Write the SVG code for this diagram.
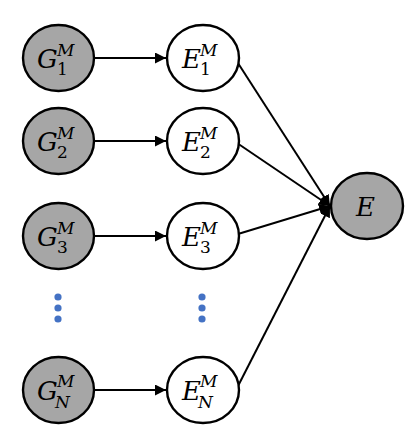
<svg xmlns="http://www.w3.org/2000/svg" width="418" height="446" viewBox="0 0 418 446">
<defs>
<marker id="ah" viewBox="0 0 10 10" refX="10" refY="5" markerWidth="5.5" markerHeight="5.5" orient="auto" markerUnits="strokeWidth">
<path d="M0,0 L10,5 L0,10 z" fill="#000"/>
</marker>
<style>
.g{fill:#a6a6a6;stroke:#000;stroke-width:2.4}
.e{fill:#fff;stroke:#000;stroke-width:2.4}
.c{stroke:#000;stroke-width:2;fill:none;marker-end:url(#ah)}
.b{font-family:"DejaVu Serif","Liberation Serif",serif;font-style:italic;font-size:26px;fill:#000}
.s{font-family:"DejaVu Serif","Liberation Serif",serif;font-style:italic;font-size:17px;fill:#000}
.d{font-family:"DejaVu Serif","Liberation Serif",serif;font-style:normal;font-size:17px;fill:#000}
.dot{fill:#4472c4}
</style>
</defs>
<rect width="418" height="446" fill="#fff"/>
<g id="connectors">
<line class="c" x1="94" y1="58" x2="166" y2="58"/>
<line class="c" x1="94" y1="141" x2="166" y2="141"/>
<line class="c" x1="94" y1="236" x2="166" y2="236"/>
<line class="c" x1="94" y1="390" x2="166" y2="390"/>
<line class="c" x1="236" y1="60" x2="330" y2="206"/>
<line class="c" x1="237" y1="143" x2="330" y2="206"/>
<line class="c" x1="238" y1="234" x2="330" y2="206"/>
<line class="c" x1="237" y1="388" x2="330" y2="206"/>
</g>
<g id="G1"><ellipse class="g" cx="58.5" cy="58" rx="35.5" ry="33"/><text class="b" x="37" y="68">G</text><text class="s" x="57" y="56">M</text><text class="d" x="57" y="75">1</text></g>
<g id="G2"><ellipse class="g" cx="58.5" cy="141" rx="35.5" ry="33"/><text class="b" x="37" y="151">G</text><text class="s" x="57" y="139">M</text><text class="d" x="57" y="158">2</text></g>
<g id="G3"><ellipse class="g" cx="58.5" cy="236" rx="35.5" ry="33"/><text class="b" x="37" y="246">G</text><text class="s" x="57" y="234">M</text><text class="d" x="57" y="253">3</text></g>
<g id="GN"><ellipse class="g" cx="58.5" cy="390" rx="35.5" ry="33"/><text class="b" x="37" y="400">G</text><text class="s" x="57" y="387">M</text><text class="s" x="55" y="408">N</text></g>
<g id="E1"><ellipse class="e" cx="203" cy="58" rx="36" ry="33"/><text class="b" x="182" y="68">E</text><text class="s" x="200" y="56">M</text><text class="d" x="200" y="75">1</text></g>
<g id="E2"><ellipse class="e" cx="203" cy="141" rx="36" ry="33"/><text class="b" x="182" y="151">E</text><text class="s" x="200" y="139">M</text><text class="d" x="200" y="158">2</text></g>
<g id="E3"><ellipse class="e" cx="203" cy="236" rx="36" ry="33"/><text class="b" x="182" y="246">E</text><text class="s" x="200" y="234">M</text><text class="d" x="200" y="253">3</text></g>
<g id="EN"><ellipse class="e" cx="203" cy="390" rx="36" ry="33"/><text class="b" x="182" y="400">E</text><text class="s" x="200" y="387">M</text><text class="s" x="198" y="408">N</text></g>
<g id="E"><ellipse class="g" cx="367" cy="206" rx="36" ry="33"/><text class="b" x="356" y="216">E</text></g>
<g id="dots1"><circle class="dot" cx="58" cy="297" r="3.6"/><circle class="dot" cx="58" cy="308" r="3.6"/><circle class="dot" cx="58" cy="319" r="3.6"/></g>
<g id="dots2"><circle class="dot" cx="202" cy="297" r="3.6"/><circle class="dot" cx="202" cy="308" r="3.6"/><circle class="dot" cx="202" cy="319" r="3.6"/></g>
</svg>
